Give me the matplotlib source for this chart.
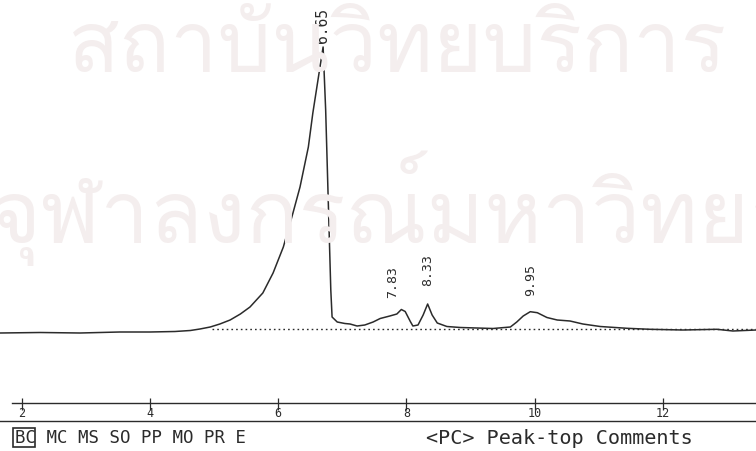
import matplotlib.pyplot as plt
from matplotlib.lines import Line2D
from matplotlib import font_manager
from matplotlib.ft2font import FT2Font

# retention time (min) and detector signal (arbitrary units)
time = [1.66, 2.29, 2.91, 3.53, 4.00, 4.39, 4.63, 4.78, 4.94, 5.09, 5.25, 5.41,
        5.56, 5.76, 5.92, 6.08, 6.23, 6.34, 6.47, 6.54, 6.62, 6.70, 6.74, 6.78,
        6.82, 6.84, 6.92, 7.04, 7.12, 7.23, 7.35, 7.48, 7.59, 7.74, 7.85, 7.92,
        7.98, 8.06, 8.10, 8.18, 8.26, 8.33, 8.40, 8.48, 8.63, 8.84, 9.35, 9.62,
        9.72, 9.82, 9.93, 10.04, 10.19, 10.35, 10.55, 10.75, 11.02, 11.44, 11.80,
        12.31, 12.84, 13.09, 13.45]
signal = [-1, -0.5, -1, 0, 0, 0.5, 1.5, 3, 5, 8, 12, 18,
          25, 39, 59, 85, 119, 145, 185, 219, 252, 285, 222, 132,
          42, 15, 10, 8.5, 8, 6, 7, 10, 13.5, 16, 18, 22.5,
          20.5, 10.5, 6, 7, 17, 28, 17, 9, 5.5, 4.5, 3.5, 5,
          10, 16, 20.3, 19.3, 14.5, 12, 11, 8, 5.5, 3.7, 2.7,
          2, 2.7, 1, 2]

# integration baseline
base_t = [4.97, 13.45]
base_s = [3, 3]

# peak-top comments
peak_names = ["6.65", "7.83", "8.33", "9.95"]
peak_t = [6.69, 7.79, 8.33, 9.93]
peak_s = [287, 32, 44, 34]

ticks = [2, 4, 6, 8, 10, 12]
menu = "BC MC MS SO PP MO PR E"
comment = "<PC> Peak-top Comments"

ink = "#2b2b2b"
mono = "DejaVu Sans Mono"

fig = plt.figure(figsize=(7.56, 4.51), dpi=100)
fig.patch.set_facecolor("white")


def thai_font():
    for f in font_manager.fontManager.ttflist:
        try:
            if 0x0E01 in FT2Font(f.fname).get_charmap():
                return f.name
        except Exception:
            pass
    return None


# faint watermark of the scanned page
tf = thai_font()
if tf:
    fig.text(68 / 756, 1 - 50 / 451, "สถาบันวิทยบริการ", family=tf, fontsize=61,
             color="#f4eeee", va="center", ha="left", zorder=0)
    fig.text(-10 / 756, 1 - 208 / 451, "จุฬาลงกรณ์มหาวิทยาลัย", family=tf, fontsize=63,
             color="#f4eeee", va="center", ha="left", zorder=0)

ax = fig.add_axes([0, 47 / 451, 1, 404 / 451])
ax.patch.set_alpha(0)
ax.plot(time, signal, color=ink, lw=1.1)
ax.plot(base_t, base_s, color=ink, lw=1.0, linestyle=(0, (1.2, 2.2)))

for name, t, s in zip(peak_names, peak_t, peak_s):
    ax.text(t, s + 2, name, rotation=90, ha="center", va="bottom",
            family=mono, fontsize=10.5 if name == "6.65" else 9.5, color=ink)

ax.set_xlim(1.662, 13.45)
ax.set_ylim(-72, 332)
for sp in ax.spines.values():
    sp.set_visible(False)
ax.axhline(-71, xmin=12 / 756, xmax=1, color=ink, lw=1.0, clip_on=False)
ax.set_yticks([])
ax.set_xticks(ticks)
ax.set_xticklabels([str(t) for t in ticks], family=mono, fontsize=8.5, color=ink)
ax.tick_params(axis="x", direction="inout", length=8, width=0.9, color=ink, pad=-2)

# lower rule and the menu line of the integrator printout
fig.add_artist(Line2D([0, 1], [1 - 421 / 451] * 2, transform=fig.transFigure,
                      color=ink, lw=1.0))
fig.text(15 / 756, 1 - 438 / 451, menu, family=mono, fontsize=12.5, color=ink,
         va="center", ha="left")
fig.add_artist(plt.Rectangle((13 / 756, 1 - 447 / 451), 22 / 756, 19 / 451,
                             transform=fig.transFigure, fill=False, ec=ink, lw=1.2))
fig.text(426 / 756, 1 - 438 / 451, comment, family=mono, fontsize=14.5, color=ink,
         va="center", ha="left")

fig.savefig("out.png", dpi=100)
